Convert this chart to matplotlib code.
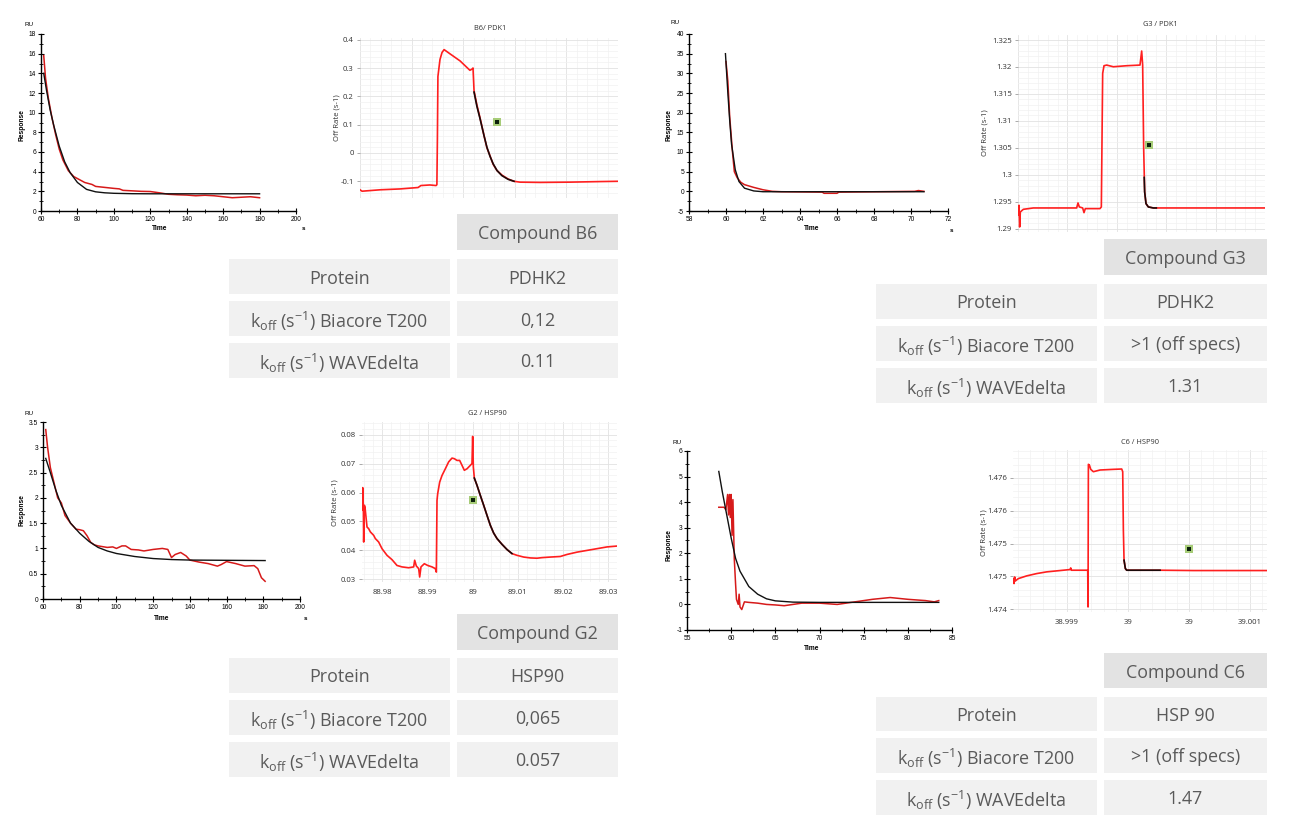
import matplotlib
matplotlib.use('Agg')
import matplotlib.pyplot as plt
from matplotlib.patches import Rectangle
from matplotlib.ticker import MultipleLocator, AutoMinorLocator, FuncFormatter

# ---------------- DATA ----------------
# Biacore T200 sensorgrams (time s, response RU)
b6_bia_t = [61.5, 62.5, 64, 66, 68, 70, 72, 75, 78, 80, 84, 88, 90, 95, 100, 103, 105, 110, 115, 120, 125, 130, 135, 140, 145, 150, 155, 160, 165, 170, 175, 180]
b6_bia_r = [15.8, 13.5, 11.5, 9.5, 7.8, 6.3, 5.2, 4.1, 3.5, 3.3, 2.9, 2.7, 2.5, 2.4, 2.3, 2.25, 2.1, 2.05, 2.0, 1.98, 1.85, 1.7, 1.65, 1.62, 1.55, 1.6, 1.55, 1.45, 1.35, 1.4, 1.45, 1.35]
b6_fit_t = [61.5, 63, 65, 67, 70, 73, 76, 80, 85, 90, 95, 100, 110, 120, 180]
b6_fit_y = [14.0, 12.3, 10.3, 8.7, 6.6, 5.0, 3.9, 2.9, 2.2, 1.95, 1.85, 1.8, 1.76, 1.75, 1.75]

g3_bia_t = [60.0, 60.1, 60.2, 60.35, 60.45, 60.6, 60.8, 61.0, 61.5, 62.0, 62.5, 63.0, 65.2, 65.3, 66.0, 66.1, 70.2, 70.4, 70.7]
g3_bia_r = [33, 28, 19, 10, 5, 3.5, 2.3, 1.7, 1.0, 0.4, 0.0, -0.1, -0.2, -0.5, -0.5, -0.2, 0.0, 0.2, 0.0]
g3_fit_t = [59.97, 60.1, 60.2, 60.3, 60.5, 60.7, 61.0, 61.5, 62.0, 70.7]
g3_fit_y = [35, 25, 18, 12, 5.5, 2.5, 0.8, 0.1, -0.1, -0.1]

g2_bia_t = [61.5, 62.5, 64, 66, 68, 70, 72, 75, 78, 80, 82, 84, 86, 88, 90, 95, 98, 100, 103, 105, 108, 112, 115, 120, 125, 128, 130, 132, 135, 138, 140, 145, 150, 155, 157, 160, 165, 170, 175, 177, 179, 181]
g2_bia_r = [3.35, 3.0, 2.6, 2.3, 2.0, 1.9, 1.65, 1.5, 1.38, 1.37, 1.35, 1.25, 1.12, 1.07, 1.05, 1.02, 1.03, 1.0, 1.05, 1.05, 0.98, 0.97, 0.95, 0.98, 1.0, 0.98, 0.82, 0.88, 0.92, 0.85, 0.77, 0.73, 0.7, 0.65, 0.68, 0.74, 0.7, 0.65, 0.66, 0.6, 0.42, 0.35]
g2_fit_t = [61.5, 64, 67, 70, 75, 80, 85, 90, 95, 100, 110, 120, 130, 140, 181]
g2_fit_y = [2.78, 2.5, 2.15, 1.85, 1.5, 1.3, 1.14, 1.02, 0.95, 0.9, 0.84, 0.8, 0.78, 0.77, 0.76]

c6_bia_t = [58.6, 59.2, 59.4, 59.6, 59.7, 59.8, 59.9, 60.0, 60.1, 60.2, 60.35, 60.5, 60.6, 60.8, 60.9, 61.0, 61.2, 61.5, 62, 63, 64, 65, 66, 68, 70, 72, 74, 76, 78, 80, 82, 83, 83.5]
c6_bia_r = [3.8, 3.8, 3.7, 4.3, 3.5, 4.3, 3.4, 4.3, 2.7, 4.1, 1.8, 0.8, 0.2, 0.0, 0.4, -0.1, -0.2, 0.1, 0.08, 0.05, 0.0, -0.02, -0.05, 0.05, 0.05, 0.0, 0.1, 0.2, 0.27, 0.2, 0.15, 0.1, 0.15]
c6_fit_t = [58.6, 59, 59.5, 60, 60.5, 61, 62, 63, 64, 65, 67, 70, 83.5]
c6_fit_y = [5.2, 4.4, 3.5, 2.6, 1.8, 1.3, 0.7, 0.4, 0.22, 0.14, 0.09, 0.08, 0.08]

# WAVEdelta off-rate traces
b6_wave_t = [0.0, 0.8, 7.8, 15.5, 22.5, 23.6, 27.1, 29.5, 29.8, 30.0, 30.2, 31.0, 31.8, 32.6, 34.9, 38.8, 41.9, 42.6, 43.4, 43.8, 44.2, 45.3, 46.5, 48.1, 49.2, 50.4, 51.6, 53.1, 55.0, 57.4, 59.7, 62.0, 69.8, 81.4, 93.0, 100.0]
b6_wave_k = [-0.130, -0.135, -0.130, -0.127, -0.122, -0.115, -0.113, -0.115, -0.112, 0.05, 0.27, 0.33, 0.355, 0.365, 0.35, 0.325, 0.298, 0.292, 0.296, 0.300, 0.22, 0.17, 0.125, 0.06, 0.018, -0.01, -0.04, -0.062, -0.078, -0.092, -0.100, -0.103, -0.104, -0.103, -0.101, -0.100]
b6_wfit_t = [44.2, 45.3, 46.5, 48.1, 49.2, 50.4, 51.6, 53.1, 55.0, 57.4, 59.7]
b6_wfit_k = [0.215, 0.165, 0.122, 0.06, 0.02, -0.012, -0.038, -0.062, -0.08, -0.093, -0.1]
b6_mark = (53.1, 0.11)

g3_wave_t = [0.13, 0.40, 0.67, 0.94, 2.16, 6.21, 16.97, 23.75, 24.29, 24.83, 26.18, 26.72, 27.26, 33.20, 33.74, 34.28, 34.82, 35.90, 38.60, 43.99, 49.39, 50.07, 50.47, 50.88, 51.28, 51.82, 52.77, 54.79, 70.99, 100.0]
g3_wave_k = [1.29260, 1.29434, 1.29031, 1.29310, 1.29359, 1.29384, 1.29384, 1.29384, 1.29477, 1.29403, 1.29384, 1.29297, 1.29372, 1.29372, 1.29403, 1.31880, 1.32023, 1.32035, 1.32004, 1.32023, 1.32035, 1.32296, 1.32035, 1.30487, 1.29681, 1.29465, 1.29403, 1.29384, 1.29384, 1.29384]
g3_wfit_t = [51.1, 51.28, 51.82, 52.77, 54.79, 56.0]
g3_wfit_k = [1.2995, 1.29681, 1.29465, 1.29403, 1.29384, 1.29384]
g3_mark = (53.04, 1.30561)

# G2: time in ms relative to 89 s
g2_wave_t = [-24.52, -24.37, -24.22, -24.15, -24.00, -23.86, -23.71, -23.41, -23.04, -22.67, -22.30, -21.93, -21.57, -21.20, -20.83, -20.09, -18.98, -17.87, -16.77, -15.66, -14.18, -13.07, -12.85, -12.48, -11.96, -11.74, -11.45, -10.71, -9.97, -9.01, -8.27, -8.05, -7.90, -7.75, -7.31, -6.79, -6.06, -5.32, -4.58, -4.06, -3.47, -2.88, -2.36, -1.85, -1.26, -0.52, -0.15, 0.0, 0.15, 0.37, 0.96, 1.70, 2.44, 3.18, 3.91, 4.65, 5.39, 6.50, 7.61, 8.71, 9.82, 11.30, 12.78, 14.25, 15.36, 17.21, 19.42, 20.90, 23.12, 25.33, 27.55, 29.76, 31.98]
g2_wave_k = [0.0539, 0.0617, 0.0550, 0.0429, 0.0556, 0.0550, 0.0527, 0.0481, 0.0475, 0.0464, 0.0458, 0.0452, 0.0441, 0.0435, 0.0429, 0.0406, 0.0383, 0.0368, 0.0348, 0.0343, 0.0340, 0.0343, 0.0366, 0.0346, 0.0337, 0.0308, 0.0343, 0.0354, 0.0348, 0.0343, 0.0337, 0.0325, 0.0573, 0.0596, 0.0636, 0.0659, 0.0682, 0.0706, 0.0719, 0.0717, 0.0711, 0.0711, 0.0694, 0.0677, 0.0682, 0.0694, 0.0700, 0.0794, 0.0688, 0.0650, 0.0625, 0.0590, 0.0556, 0.0521, 0.0487, 0.0460, 0.0441, 0.0421, 0.0403, 0.0389, 0.0383, 0.0377, 0.0374, 0.0373, 0.0375, 0.0377, 0.0379, 0.0386, 0.0394, 0.0400, 0.0406, 0.0412, 0.0415]
g2_wfit_t = [0.37, 0.96, 1.70, 2.44, 3.18, 3.91, 4.65, 5.39, 6.50, 7.61, 8.71]
g2_wfit_k = [0.0650, 0.0625, 0.0590, 0.0556, 0.0521, 0.0487, 0.0460, 0.0441, 0.0421, 0.0403, 0.0389]
g2_mark = (0.0, 0.0573)
g2_xticks = [-20, -10, 0, 10, 20, 30]
g2_xlabels = ['88.98', '88.99', '89', '89.01', '89.02', '89.03']

# C6: time in ms relative to 39 s
c6_wave_t = [-1.4399, -1.4344, -1.4290, -1.4235, -1.3989, -1.3306, -1.2486, -1.1667, -1.0574, -0.9754, -0.9699, -0.9645, -0.8388, -0.8306, -0.8279, -0.8251, -0.8169, -0.8060, -0.7842, -0.7295, -0.6202, -0.5519, -0.5437, -0.5383, -0.5328, -0.5219, -0.5109, -0.4016, -0.2377, 0.0355, 0.3087, 0.6366]
c6_wave_k = [1.474467, 1.474391, 1.474492, 1.474431, 1.474467, 1.474508, 1.474543, 1.474569, 1.474589, 1.474604, 1.474629, 1.474594, 1.474594, 1.474594, 1.474036, 1.476203, 1.476193, 1.476127, 1.476091, 1.476117, 1.476127, 1.476132, 1.476091, 1.475203, 1.474746, 1.474619, 1.474594, 1.474594, 1.474594, 1.474589, 1.474589, 1.474589]
c6_wfit_t = [-0.5328, -0.5219, -0.5109, -0.4016, -0.2377]
c6_wfit_k = [1.474746, 1.474619, 1.474594, 1.474594, 1.474594]
c6_mark = (0.0, 1.474924)
c6_yticks = [1.474, 1.4745, 1.475, 1.4755, 1.476]
c6_ylabels = ['1.474', '1.475', '1.475', '1.476', '1.476']
c6_xticks = [-1.0, -0.5, 0.0, 0.5]
c6_xlabels = ['38.999', '39', '39', '39.001']

# Tables
row_labels = ['Protein',
              r'k$_\mathregular{off}$ (s$^\mathregular{-1}$) Biacore T200',
              r'k$_\mathregular{off}$ (s$^\mathregular{-1}$) WAVEdelta']
b6_table = ['Compound B6', 'PDHK2', '0,12', '0.11']
g3_table = ['Compound G3', 'PDHK2', '>1 (off specs)', '1.31']
g2_table = ['Compound G2', 'HSP90', '0,065', '0.057']
c6_table = ['Compound C6', 'HSP 90', '>1 (off specs)', '1.47']

# ---------------- FIGURE ----------------
W, H = 1301, 832
fig = plt.figure(figsize=(W / 100, H / 100), dpi=100)
fig.patch.set_facecolor('white')

BIA_FONT = 'Liberation Sans'
WAVE_FONT = 'Open Sans'
TAB_FONT = 'Open Sans'


def add_ax(box):
    l, t, r, b = box
    return fig.add_axes([l / W, 1 - b / H, (r - l) / W, (b - t) / H])


def ftxt(x, y, s, **kw):
    fig.text(x / W, 1 - y / H, s, **kw)


def gfmt(v, p):
    return f'{v:g}'


def draw_biacore(box, xr, yr, xf, yf, xlim, ylim, xmaj, xmin, ymaj, ymin, ru, resp, time, sxy):
    ax = add_ax(box)
    ax.plot(xr, yr, color='#d61a1a', lw=1.1, zorder=2)
    ax.plot(xf, yf, color='#111111', lw=1.0, zorder=3)
    ax.set_xlim(xlim)
    ax.set_ylim(ylim)
    ax.xaxis.set_major_locator(MultipleLocator(xmaj))
    ax.xaxis.set_minor_locator(MultipleLocator(xmin))
    ax.yaxis.set_major_locator(MultipleLocator(ymaj))
    ax.yaxis.set_minor_locator(MultipleLocator(ymin))
    ax.xaxis.set_major_formatter(FuncFormatter(gfmt))
    ax.yaxis.set_major_formatter(FuncFormatter(gfmt))
    for s in ['top', 'right']:
        ax.spines[s].set_visible(False)
    for s in ['left', 'bottom']:
        ax.spines[s].set_linewidth(1.0)
    ax.tick_params(which='major', direction='inout', length=4, width=0.8, labelsize=4.8, pad=1.5)
    ax.tick_params(which='minor', direction='inout', length=2.5, width=0.6)
    for lab in ax.get_xticklabels() + ax.get_yticklabels():
        lab.set_fontfamily(BIA_FONT)
    ax.set_facecolor('none')
    ftxt(*ru, 'RU', fontsize=4.5, family=BIA_FONT, ha='center', va='center')
    ftxt(*resp, 'Response', fontsize=4.8, family=BIA_FONT, weight='bold', rotation=90, ha='center', va='center')
    ftxt(*time, 'Time', fontsize=4.8, family=BIA_FONT, weight='bold', ha='center', va='center')
    if sxy is not None:
        ftxt(*sxy, 's', fontsize=4.5, family=BIA_FONT, weight='bold', ha='center', va='center')
    return ax


def draw_wave(box, xr, yr, xf, yf, mk, xlim, ylim, yt, ytl, xt, xtl, xmaj, title, title_xy, ylab_xy):
    ax = add_ax(box)
    ax.set_xlim(xlim)
    ax.set_ylim(ylim)
    ax.set_yticks(yt)
    ax.set_yticklabels(ytl)
    ax.yaxis.set_minor_locator(AutoMinorLocator(5))
    if xt is not None:
        ax.set_xticks(xt)
        ax.set_xticklabels(xtl)
    else:
        ax.xaxis.set_major_locator(MultipleLocator(xmaj))
        ax.set_xticklabels([])
    ax.xaxis.set_minor_locator(AutoMinorLocator(5))
    ax.grid(True, which='major', color='#e2e2e2', lw=0.6)
    ax.grid(True, which='minor', color='#f1f1f1', lw=0.5)
    ax.set_axisbelow(True)
    for s in ax.spines.values():
        s.set_visible(False)
    ax.tick_params(axis='y', which='major', length=2.5, width=0.5, color='#888888',
                   labelsize=5.6, labelcolor='#333333', pad=2)
    ax.tick_params(axis='x', which='major', length=0, labelsize=5.6, labelcolor='#333333', pad=5)
    ax.tick_params(which='minor', length=0)
    for lab in ax.get_xticklabels() + ax.get_yticklabels():
        lab.set_fontfamily(WAVE_FONT)
    ax.plot(xr, yr, color='#ff1f1f', lw=1.2, zorder=3)
    ax.plot(xf, yf, color='#1a0a0a', lw=1.2, zorder=4)
    ax.scatter([mk[0]], [mk[1]], marker='s', s=34, color='#a7cc78', zorder=5, linewidths=0)
    ax.scatter([mk[0]], [mk[1]], marker='s', s=9, color='#0c200c', zorder=6, linewidths=0)
    ftxt(*title_xy, title, fontsize=5.3, family=WAVE_FONT, color='#333333', ha='center', va='center')
    ftxt(*ylab_xy, 'Off Rate (s-1)', fontsize=5.6, family=WAVE_FONT, color='#333333',
         rotation=90, ha='center', va='center')
    return ax


def draw_table(hdr_box, lx, rx, rows_y, vals):
    def cell(l, t, r, b, color, txt):
        fig.add_artist(Rectangle((l / W, 1 - b / H), (r - l) / W, (b - t) / H,
                                 transform=fig.transFigure, facecolor=color, edgecolor='none'))
        ftxt((l + r) / 2, (t + b) / 2, txt, fontsize=12.9, family=TAB_FONT, color='#5a5a5a',
             ha='center', va='center_baseline')
    l, t, r, b = hdr_box
    cell(l, t, r, b, '#e3e3e3', vals[0])
    for i, (yt, yb) in enumerate(rows_y):
        cell(lx[0], yt, lx[1], yb, '#f1f1f1', row_labels[i])
        cell(rx[0], yt, rx[1], yb, '#f1f1f1', vals[i + 1])


# --- B6 ---
draw_biacore((41, 34, 296, 211), b6_bia_t, b6_bia_r, b6_fit_t, b6_fit_y, (60, 200), (0, 18),
             20, 10, 2, 1, (29, 25), (22, 125), (160, 229), (303, 228))
draw_wave((360, 38, 618, 198), b6_wave_t, b6_wave_k, b6_wfit_t, b6_wfit_k, b6_mark,
          (0, 100), (-0.159, 0.406), [-0.1, 0, 0.1, 0.2, 0.3, 0.4], ['-0.1', '0', '0.1', '0.2', '0.3', '0.4'],
          None, None, 20, 'B6/ PDK1', (490, 28), (337, 118))
draw_table((457, 214, 618, 250), (229, 450), (457, 618), [(259, 294), (301, 336), (343, 378)], b6_table)

# --- G3 ---
draw_biacore((689, 34, 948, 211), g3_bia_t, g3_bia_r, g3_fit_t, g3_fit_y, (58, 72), (-5, 40),
             2, 1, 5, 2.5, (675, 23), (669, 125), (812, 229), (952, 230))
draw_wave((1018, 35, 1265, 232), g3_wave_t, g3_wave_k, g3_wfit_t, g3_wfit_k, g3_mark,
          (0, 100), (1.28938, 1.32593), [1.29, 1.295, 1.3, 1.305, 1.31, 1.315, 1.32, 1.325],
          ['1.29', '1.295', '1.3', '1.305', '1.31', '1.315', '1.32', '1.325'],
          None, None, 20, 'G3 / PDK1', (1160, 25), (985, 133))
draw_table((1104, 239, 1267, 275), (876, 1097), (1104, 1267), [(284, 319), (326, 361), (368, 403)], g3_table)

# --- G2 ---
draw_biacore((43, 422, 300, 599), g2_bia_t, g2_bia_r, g2_fit_t, g2_fit_y, (60, 200), (0, 3.5),
             20, 10, 0.5, 0.25, (29, 413), (22, 510), (162, 618), (305, 619))
draw_wave((362, 422, 617, 582), g2_wave_t, g2_wave_k, g2_wfit_t, g2_wfit_k, g2_mark,
          (-24.52, 31.98), (0.02908, 0.08438), [0.03, 0.04, 0.05, 0.06, 0.07, 0.08],
          ['0.03', '0.04', '0.05', '0.06', '0.07', '0.08'],
          g2_xticks, g2_xlabels, 10, 'G2 / HSP90', (487, 413), (335, 503))
draw_table((457, 614, 618, 650), (229, 450), (457, 618), [(658, 693), (700, 735), (742, 777)], g2_table)

# --- C6 ---
draw_biacore((687, 451, 952, 630), c6_bia_t, c6_bia_r, c6_fit_t, c6_fit_y, (55, 85), (-1, 6),
             5, 2.5, 1, 0.5, (677, 442), (669, 545), (812, 649), None)
draw_wave((1013, 450, 1267, 612), c6_wave_t, c6_wave_k, c6_wfit_t, c6_wfit_k, c6_mark,
          (-1.443, 0.639), (1.473959, 1.476421), c6_yticks, c6_ylabels,
          c6_xticks, c6_xlabels, 0.5, 'C6 / HSP90', (1140, 442), (984, 533))
draw_table((1104, 653, 1267, 688), (876, 1097), (1104, 1267), [(697, 731), (738, 773), (780, 815)], c6_table)

fig.savefig('out.png', dpi=100, facecolor='white')
